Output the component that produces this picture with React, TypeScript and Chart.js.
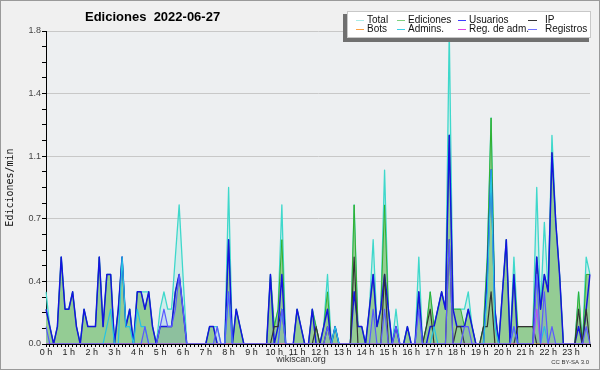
import React, { useEffect, useRef } from 'react';
import { Chart, registerables } from 'chart.js';
Chart.register(...registerables);

// 10-minute bins for the day
const TIMES: string[] = [];
for (let h = 0; h < 24; h++) for (let m = 0; m < 60; m += 10) TIMES.push(`${h}:${m < 10 ? '0' + m : m}`);

const HOUR_LABELS = ['0 h','1 h','2 h','3 h','4 h','5 h','6 h','7 h','8 h','9 h','10 h','11 h','12 h','13 h','14 h','15 h','16 h','17 h','18 h','19 h','20 h','21 h','22 h','23 h'];

const Y_MAJOR = [0, 0.36, 0.72, 1.08, 1.44, 1.8];
const Y_LABELS = ['0.0', '0.4', '0.7', '1.1', '1.4', '1.8'];

const TOTAL = [
  .3,.1,0,.1,.5,.2,  .2,.3,.1,0,.2,.1,  .1,.1,.5,.1,.4,.4,  0,.2,.5,.1,.2,0,
  .3,.3,.3,.3,.1,0,  .2,.3,.2,.2,.5,.8,  .4,0,0,0,0,0,  0,.1,.1,.1,0,0,
  .9,0,.2,.1,0,0,  0,0,0,0,0,.4,  .1,.2,.8,0,0,0,  .2,.1,0,0,.2,.1,
  0,.1,.4,0,.1,0,  0,0,0,.8,.1,.1,  0,.2,.6,.1,.2,1.0,  .2,0,.2,0,0,.1,
  0,0,.5,0,.1,.3,  .1,.2,.3,.2,1.8,.2,  .2,.2,.2,.3,.1,0,  0,.1,.5,1.3,.2,0,
  .3,.6,0,.5,.1,.1,  .1,.1,.1,.9,.2,.7,  .3,1.2,.7,.4,0,0,  0,0,.3,0,.5,.4,
];
const EDICIONES = [
  .2,.1,0,.1,.5,.2,  .2,.3,.1,0,.2,.1,  .1,.1,.5,.1,.4,.4,  0,.2,.5,.1,.2,0,
  .3,.3,.2,.3,.1,0,  .1,.1,.1,.1,.3,.4,  .2,0,0,0,0,0,  0,.1,.1,0,0,0,
  .6,0,.2,.1,0,0,  0,0,0,0,0,.4,  .1,.2,.6,0,0,0,  .2,.1,0,0,.2,.1,
  0,.1,.3,0,.1,0,  0,0,0,.8,.1,.1,  0,.2,.4,.1,.2,.8,  .2,0,.1,0,0,.1,
  0,0,.3,0,.1,.3,  .1,.2,.3,.2,1.2,.2,  .2,.2,.1,.2,.1,0,  0,.1,.5,1.3,.2,0,
  .3,.6,0,.4,.1,.1,  .1,.1,.1,.5,.2,.4,  .3,1.1,.7,.4,0,0,  0,0,.3,0,.4,.4,
];
const USUARIOS = [
  .2,.1,0,.1,.5,.2,  .2,.3,.1,0,.2,.1,  .1,.1,.5,.1,.4,.4,  0,.2,.5,.1,.2,0,
  .3,.3,.2,.3,.1,0,  .1,.1,.1,.1,.3,.4,  .2,0,0,0,0,0,  0,.1,.1,0,0,0,
  .6,0,.2,.1,0,0,  0,0,0,0,0,.4,  0,.1,.4,0,0,0,  .2,.1,0,0,.2,0,
  0,.1,.2,0,.1,0,  0,0,0,.3,.1,.1,  0,.2,.4,.1,.2,.4,  .2,0,.1,0,0,.1,
  0,0,.3,0,0,.1,  .1,.2,.3,.2,1.2,.2,  .1,.1,.1,.2,.1,0,  0,0,.4,1.0,.2,0,
  .3,.6,0,.4,0,0,  0,0,0,.5,.2,.4,  .3,1.1,.7,.4,0,0,  0,0,.1,0,.2,.4,
];
const IP = [
  0,0,0,0,0,0,  0,0,0,0,0,0,  0,0,0,0,0,0,  0,0,0,0,0,0,
  0,0,0,0,0,0,  0,0,0,0,0,0,  0,0,0,0,0,0,  0,0,0,0,0,0,
  0,0,0,0,0,0,  0,0,0,0,0,0,  .1,.1,.2,0,0,0,  0,0,0,0,0,.1,
  0,0,.1,0,0,0,  0,0,0,.5,0,0,  0,0,0,0,0,.4,  0,0,0,0,0,0,
  0,0,0,0,.1,.2,  0,0,0,0,.6,0,  .1,.1,0,0,0,0,  0,.1,.1,.3,0,0,
  0,0,0,0,.1,.1,  .1,.1,.1,0,0,0,  0,0,0,0,0,0,  0,0,.2,0,.2,0,
];
const BOTS = [
  0,0,0,0,0,0,  0,0,0,0,0,0,  0,0,0,0,0,0,  0,0,0,0,0,0,
  0,0,0,0,0,0,  0,0,0,0,0,0,  0,0,0,0,0,0,  0,0,0,0,0,0,
  0,0,0,0,0,0,  0,0,0,0,0,0,  0,0,0,0,0,0,  0,0,0,0,0,0,
  0,0,0,0,0,0,  0,0,0,0,0,0,  0,0,0,0,0,0,  0,0,0,0,0,0,
  0,0,0,0,0,0,  0,0,0,0,0,0,  0,0,0,0,0,0,  0,0,0,0,0,0,
  0,0,0,0,0,0,  0,0,0,0,0,0,  0,0,0,0,0,0,  0,0,0,0,0,0,
];
const ADMINS = [
  0,0,0,0,0,0,  0,0,0,0,0,0,  0,0,0,0,.1,.2,  0,0,.5,.1,.1,0,
  .2,.1,.1,0,0,0,  0,0,0,0,0,0,  0,0,0,0,0,0,  0,0,0,0,0,0,
  .3,0,0,0,0,0,  0,0,0,0,0,0,  0,0,.2,0,0,0,  0,0,0,0,0,0,
  0,0,0,0,.1,0,  0,0,0,0,0,0,  0,0,0,0,0,0,  0,0,0,0,0,0,
  0,0,0,0,0,0,  .1,0,0,0,0,0,  0,0,0,0,0,0,  0,0,.3,1.0,.1,0,
  0,0,0,.1,0,0,  0,0,0,.2,0,.1,  0,0,0,0,0,0,  0,0,0,0,0,0,
];
const REG_ADM = [
  0,0,0,0,0,0,  0,0,0,0,0,0,  0,0,0,0,0,0,  0,0,0,0,0,0,
  0,0,0,0,0,0,  0,0,0,0,0,0,  0,0,0,0,0,0,  0,0,0,0,0,0,
  0,0,0,0,0,0,  0,0,0,0,0,0,  0,0,0,0,0,0,  0,0,0,0,0,0,
  0,0,0,0,0,0,  0,0,0,0,0,0,  0,0,0,0,0,0,  0,0,0,0,0,0,
  0,0,0,0,0,0,  0,0,0,0,0,0,  0,0,0,0,0,0,  0,0,0,0,0,0,
  0,0,0,0,0,0,  0,0,0,.2,0,0,  0,0,0,0,0,0,  0,0,0,0,0,0,
];
const REGISTROS = [
  .1,0,0,0,0,0,  0,0,0,0,0,0,  0,0,0,0,0,0,  0,0,0,0,0,0,
  0,0,.1,0,0,0,  .1,.2,.1,.1,.2,.4,  .2,0,0,0,0,0,  0,0,0,.1,0,0,
  .3,0,0,0,0,0,  0,0,0,0,0,0,  0,0,.2,0,0,0,  0,0,0,0,0,0,
  0,0,.1,0,0,0,  0,0,0,0,0,0,  0,0,.2,0,0,.2,  0,0,.1,0,0,0,
  0,0,.2,0,0,0,  0,0,0,0,.6,0,  0,0,.1,.1,0,0,  0,0,0,0,0,0,
  0,0,0,.1,0,0,  0,0,0,.4,0,.3,  0,.1,0,0,0,0,  0,0,0,0,.1,0,
];

const FONT = '"Liberation Sans", Arial, Helvetica, sans-serif';

const LEGEND = [
  { label: 'Total', color: '#a8ece6' },
  { label: 'Ediciones', color: '#7fd07f' },
  { label: 'Usuarios', color: '#3c3cff' },
  { label: 'IP', color: '#333333' },
  { label: 'Bots', color: '#ffa040' },
  { label: 'Admins.', color: '#3cd0e6' },
  { label: 'Reg. de adm.', color: '#e040e8' },
  { label: 'Registros', color: '#7070ff' },
];

const bgPlugin = {
  id: 'bg',
  beforeDraw(chart: any) {
    const { ctx, chartArea: a } = chart;
    ctx.save();
    ctx.fillStyle = '#f0f0f0';
    ctx.fillRect(0, 0, chart.width, chart.height);
    ctx.fillStyle = '#edeff1';
    ctx.fillRect(a.left, a.top, a.right - a.left, a.bottom - a.top);
    ctx.restore();
  },
};

const decoPlugin = {
  id: 'deco',
  afterDraw(chart: any) {
    const { ctx } = chart;
    ctx.save();
    // title
    ctx.fillStyle = '#000';
    ctx.font = `bold 13px ${FONT}`;
    ctx.textBaseline = 'alphabetic';
    ctx.textAlign = 'left';
    ctx.fillText('Ediciones  2022-06-27', 85, 21);
    // legend
    const bx = 347, by = 11, bw = 244, bh = 27;
    ctx.fillStyle = '#707070';
    ctx.fillRect(bx - 4, by + 3, bw + 2, bh + 1);
    ctx.fillStyle = '#ffffff';
    ctx.fillRect(bx, by, bw, bh);
    ctx.strokeStyle = '#c8c8c8';
    ctx.lineWidth = 1;
    ctx.strokeRect(bx + 0.5, by + 0.5, bw - 1, bh - 1);
    const lineX = [356, 397, 458, 528];
    const lineW = [8, 8, 8, 9];
    const textX = [367, 408, 469, 545];
    const rowY = [20, 29];
    ctx.font = `10px ${FONT}`;
    ctx.textBaseline = 'middle';
    LEGEND.forEach((it, k) => {
      const c = k % 4, r = Math.floor(k / 4);
      ctx.strokeStyle = it.color;
      ctx.beginPath();
      ctx.moveTo(lineX[c], rowY[r] + 0.5);
      ctx.lineTo(lineX[c] + lineW[c], rowY[r] + 0.5);
      ctx.stroke();
      ctx.fillStyle = '#111';
      ctx.fillText(it.label, textX[c], rowY[r] + 0.5);
    });
    // footer
    ctx.textBaseline = 'alphabetic';
    ctx.fillStyle = '#333';
    ctx.font = `9px ${FONT}`;
    ctx.textAlign = 'center';
    ctx.fillText('wikiscan.org', 301, 362);
    ctx.font = `6px ${FONT}`;
    ctx.textAlign = 'right';
    ctx.fillText('CC BY-SA 3.0', 589, 364);
    // frame
    ctx.strokeStyle = '#9a9a9a';
    ctx.strokeRect(0.5, 0.5, chart.width - 1, chart.height - 1);
    ctx.restore();
  },
};

function isMajor(v: number) {
  return Y_MAJOR.some((m) => Math.abs(m - v) < 1e-6);
}

export default function App() {
  const ref = useRef<HTMLCanvasElement | null>(null);
  useEffect(() => {
    if (!ref.current) return;
    const base = { pointRadius: 0, tension: 0, borderJoinStyle: 'round' as const };
    const chart = new Chart(ref.current, {
      type: 'line',
      data: {
        labels: TIMES,
        datasets: [
          { ...base, label: 'Total', data: TOTAL, borderColor: '#3ed8cb', backgroundColor: 'rgba(64,224,208,0.16)', borderWidth: 1.3, fill: 'origin', order: 8 },
          { ...base, label: 'Ediciones', data: EDICIONES, borderColor: '#2fb02f', backgroundColor: 'rgb(148,204,148)', borderWidth: 1, fill: 'origin', order: 7 },
          { ...base, label: 'Usuarios', data: USUARIOS, borderColor: '#1414e0', borderWidth: 1.5, fill: false, order: 6 },
          { ...base, label: 'IP', data: IP, borderColor: '#333333', borderWidth: 1.2, fill: false, order: 5 },
          { ...base, label: 'Bots', data: BOTS, borderColor: '#ffa040', borderWidth: 1, fill: false, order: 4 },
          { ...base, label: 'Admins.', data: ADMINS, borderColor: '#26c4e2', borderWidth: 1.2, fill: false, order: 3 },
          { ...base, label: 'Reg. de adm.', data: REG_ADM, borderColor: '#e040e8', borderWidth: 1, fill: false, order: 2 },
          { ...base, label: 'Registros', data: REGISTROS, borderColor: '#5a5aff', backgroundColor: 'rgba(90,90,255,0.10)', borderWidth: 1.2, fill: 'origin', order: 1 },
        ],
      },
      options: {
        responsive: false,
        animation: false,
        devicePixelRatio: 1,
        layout: { padding: { left: 0, top: 31, right: 10, bottom: 0 } },
        plugins: { legend: { display: false }, tooltip: { enabled: false }, title: { display: false } },
        scales: {
          x: {
            type: 'category',
            z: 1,
            offset: false,
            afterFit: (s: any) => { s.height = 26; },
            grid: { drawOnChartArea: false, drawTicks: true, tickLength: 3, tickColor: '#000', offset: false },
            border: { color: '#000', width: 1 },
            ticks: {
              autoSkip: false, maxRotation: 0, minRotation: 0, padding: 0,
              color: '#222', font: { size: 9, family: FONT },
              callback: (_v: any, idx: number) => (idx % 6 === 0 ? HOUR_LABELS[idx / 6] : ''),
            },
          },
          y: {
            type: 'linear',
            min: 0,
            max: 1.8,
            afterFit: (s: any) => { s.width = 46; },
            afterBuildTicks: (s: any) => {
              const t = [];
              for (let k = 0; k <= 20; k++) t.push({ value: Math.round(k * 9) / 100 });
              s.ticks = t;
            },
            grid: {
              color: (c: any) => (c.tick && isMajor(c.tick.value) ? '#c8c8c8' : 'rgba(0,0,0,0)'),
              tickColor: '#000',
              tickLength: 4,
            },
            border: { color: '#000', width: 1 },
            ticks: {
              autoSkip: false, padding: 1, color: '#444', font: { size: 9, family: FONT },
              callback: (v: any) => {
                const i = Y_MAJOR.findIndex((m) => Math.abs(m - Number(v)) < 1e-6);
                return i >= 0 ? Y_LABELS[i] : '';
              },
            },
            title: {
              display: true, text: 'Ediciones/min', color: '#111',
              font: { size: 10, family: '"DejaVu Sans Mono", monospace' },
              padding: { top: 4, bottom: 0 },
            },
          },
        },
      },
      plugins: [bgPlugin, decoPlugin],
    } as any);
    return () => chart.destroy();
  }, []);
  return (
    <div style={{ position: 'absolute', left: 0, top: 0, width: 600, height: 370 }}>
      <canvas ref={ref} width={600} height={370} style={{ display: 'block', width: 600, height: 370 }} />
    </div>
  );
}
